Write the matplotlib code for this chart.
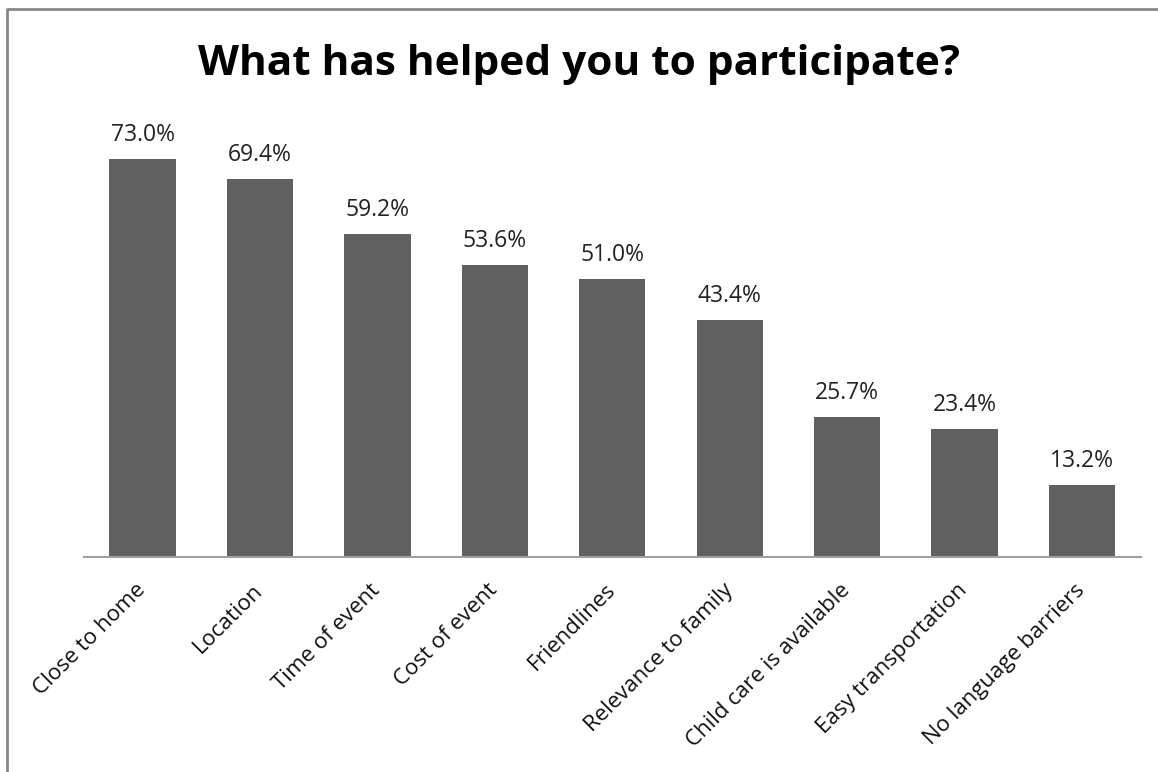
import matplotlib
matplotlib.use("Agg")
import matplotlib.pyplot as plt
from matplotlib.lines import Line2D

categories = ["Close to home", "Location", "Time of event", "Cost of event",
              "Friendlines", "Relevance to family", "Child care is available",
              "Easy transportation", "No language barriers"]
values = [73.0, 69.4, 59.2, 53.6, 51.0, 43.4, 25.7, 23.4, 13.2]
title = "What has helped you to participate?"

W, H = 1158, 772
fig = plt.figure(figsize=(W / 100, H / 100), dpi=100)
fam = ["Open Sans", "DejaVu Sans"]

ax = fig.add_axes([83.8 / W, 1 - 556.5 / H, (1140.7 - 83.8) / W, (556.5 - 121) / H])
x = list(range(len(categories)))
ax.bar(x, values, width=0.565, color="#606060", zorder=2)
ax.set_xlim(-0.5, len(categories) - 0.5)
ax.set_ylim(0, 80)
for xi, v in zip(x, values):
    ax.annotate(f"{v:.1f}%", (xi, v), xytext=(0, 13), textcoords="offset points",
                ha="center", va="baseline", fontsize=16.5, family=fam,
                color="#222222")

for s in ["top", "right", "left"]:
    ax.spines[s].set_visible(False)
ax.spines["bottom"].set_color("#a0a0a0")
ax.spines["bottom"].set_linewidth(1.5)
ax.set_yticks([])
ax.set_xticks(x)
ax.set_xticklabels(categories, rotation=45, ha="right", va="center",
                   rotation_mode="anchor", fontsize=16, family=fam,
                   color="#111111")
ax.tick_params(axis="x", length=0, pad=22)

fig.text(0.5, 1 - 75 / H, title, ha="center", va="baseline", fontsize=30.5,
         fontweight="bold", family=fam, color="#000000")

# outer border (left and top)
fig.add_artist(Line2D([7.5 / W, 7.5 / W, 1.0], [0.0, 1 - 9 / H, 1 - 9 / H],
                      transform=fig.transFigure, color="#888888", linewidth=2))

fig.savefig("out.png", dpi=100)
